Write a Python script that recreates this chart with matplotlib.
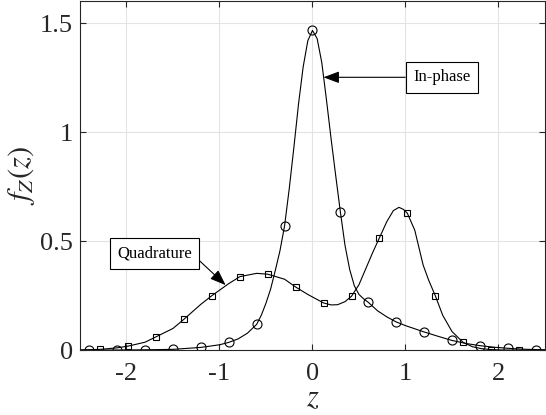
import matplotlib
matplotlib.use("Agg")
import matplotlib.pyplot as plt

# curve samples
inphase_x = [-2.5, -2.4, -2.1, -1.8, -1.5, -1.2, -1.0, -0.9, -0.8, -0.7, -0.6, -0.55,
             -0.5, -0.45, -0.4, -0.35, -0.3, -0.25, -0.2, -0.15, -0.1, -0.05, 0.0,
             0.05, 0.1, 0.15, 0.2, 0.25, 0.3, 0.35, 0.4, 0.45, 0.5, 0.55, 0.6, 0.7,
             0.8, 0.9, 1.0, 1.2, 1.35, 1.5, 1.65, 1.8, 1.95, 2.1, 2.25, 2.4, 2.5]
inphase_y = [0.0, 0.0, 0.0, 0.001, 0.003, 0.012, 0.024, 0.035, 0.051, 0.077, 0.118, 0.16,
             0.215, 0.28, 0.365, 0.455, 0.57, 0.74, 0.93, 1.13, 1.30, 1.42, 1.467,
             1.43, 1.32, 1.15, 0.97, 0.80, 0.634, 0.48, 0.37, 0.295, 0.255, 0.235, 0.219, 0.18,
             0.152, 0.129, 0.112, 0.083, 0.063, 0.044, 0.03, 0.020, 0.013, 0.008, 0.004, 0.002, 0.001]

quad_x = [-2.5, -2.28, -2.1, -1.98, -1.8, -1.68, -1.5, -1.38, -1.2, -1.08, -0.9, -0.78,
          -0.6, -0.48, -0.3, -0.18, -0.05, 0.05, 0.12, 0.2, 0.27, 0.35, 0.42, 0.5, 0.58,
          0.65, 0.72, 0.8, 0.87, 0.93, 0.98, 1.02, 1.1, 1.19, 1.25, 1.32, 1.4, 1.5, 1.62,
          1.72, 1.82, 1.92, 2.05, 2.22, 2.5]
quad_y = [0.0, 0.003, 0.010, 0.018, 0.036, 0.061, 0.099, 0.142, 0.21, 0.250, 0.305, 0.337,
          0.352, 0.348, 0.325, 0.289, 0.255, 0.232, 0.216, 0.207, 0.208, 0.222, 0.247, 0.30, 0.38,
          0.45, 0.515, 0.59, 0.64, 0.655, 0.645, 0.628, 0.55, 0.39, 0.32, 0.250, 0.16, 0.085, 0.035,
          0.015, 0.006, 0.002, 0.0, 0.0, 0.0]

# marker samples
inphase_mx = [-2.4, -2.1, -1.8, -1.5, -1.2, -0.9, -0.6, -0.3, 0.0, 0.3, 0.6, 0.9, 1.2, 1.5, 1.8, 2.1, 2.4]
inphase_my = [0.0, 0.0, 0.0, 0.003, 0.012, 0.035, 0.118, 0.570, 1.467, 0.634, 0.219, 0.129,
              0.083, 0.044, 0.020, 0.008, 0.002]
quad_mx = [-2.28, -1.98, -1.68, -1.38, -1.08, -0.78, -0.48, -0.18, 0.12, 0.42, 0.72, 1.02,
           1.32, 1.62, 1.92, 2.22]
quad_my = [0.003, 0.018, 0.061, 0.142, 0.250, 0.337, 0.348, 0.289, 0.216, 0.247, 0.515, 0.628,
           0.250, 0.035, 0.002, 0.0]

x_ticks = [-2, -1, 0, 1, 2]
y_ticks = [0, 0.5, 1, 1.5]
y_tick_labels = ["0", "0.5", "1", "1.5"]

plt.rcParams["font.family"] = ["Liberation Serif", "DejaVu Serif"]
plt.rcParams["mathtext.fontset"] = "stix"
plt.rcParams["axes.unicode_minus"] = False

axis_grey = "#262626"

fig = plt.figure(figsize=(5.46, 4.15), dpi=100)
ax = fig.add_axes((0.1465, 0.1566, 0.8516, 0.8398))

ax.plot(inphase_x, inphase_y, color="black", lw=0.8)
ax.plot(quad_x, quad_y, color="black", lw=0.8)
ax.plot(inphase_mx, inphase_my, ls="none", marker="o", ms=6.5, mfc="none", mec="black", mew=0.8)
ax.plot(quad_mx, quad_my, ls="none", marker="s", ms=5, mfc="none", mec="black", mew=0.8)

ax.set_xlim(-2.5, 2.5)
ax.set_ylim(0, 1.6)
ax.set_xticks(x_ticks)
ax.set_yticks(y_ticks)
ax.set_yticklabels(y_tick_labels)
ax.grid(True, color="#e3e3e3", lw=0.8)
ax.set_axisbelow(True)
ax.tick_params(direction="in", length=4, width=0.8, top=True, right=True,
               labelsize=19, colors=axis_grey)
ax.tick_params(axis="x", pad=9)
ax.tick_params(axis="y", pad=5)
for spine in ax.spines.values():
    spine.set_color(axis_grey)
    spine.set_linewidth(0.8)

ax.set_xlabel("$z$", fontsize=22, color=axis_grey, labelpad=0)
ax.set_ylabel("$f_Z(z)$", fontsize=22, color=axis_grey, labelpad=2)

box = dict(boxstyle="square,pad=0.45", fc="white", ec="black", lw=0.8)
ax.annotate("In-phase", xy=(0.118, 1.252), xytext=(1.39, 1.252), fontsize=12,
            ha="center", va="center", bbox=box,
            arrowprops=dict(arrowstyle="-|>,head_length=0.8,head_width=0.3", color="black",
                            lw=0.8, relpos=(0, 0.5), shrinkA=0, shrinkB=0))
ax.annotate("Quadrature", xy=(-0.934, 0.298), xytext=(-1.70, 0.443), fontsize=12,
            ha="center", va="center", bbox=box,
            arrowprops=dict(arrowstyle="-|>,head_length=0.8,head_width=0.3", color="black",
                            lw=0.8, relpos=(1, 0.5), shrinkA=0, shrinkB=0))

fig.savefig("out.png", dpi=100)
